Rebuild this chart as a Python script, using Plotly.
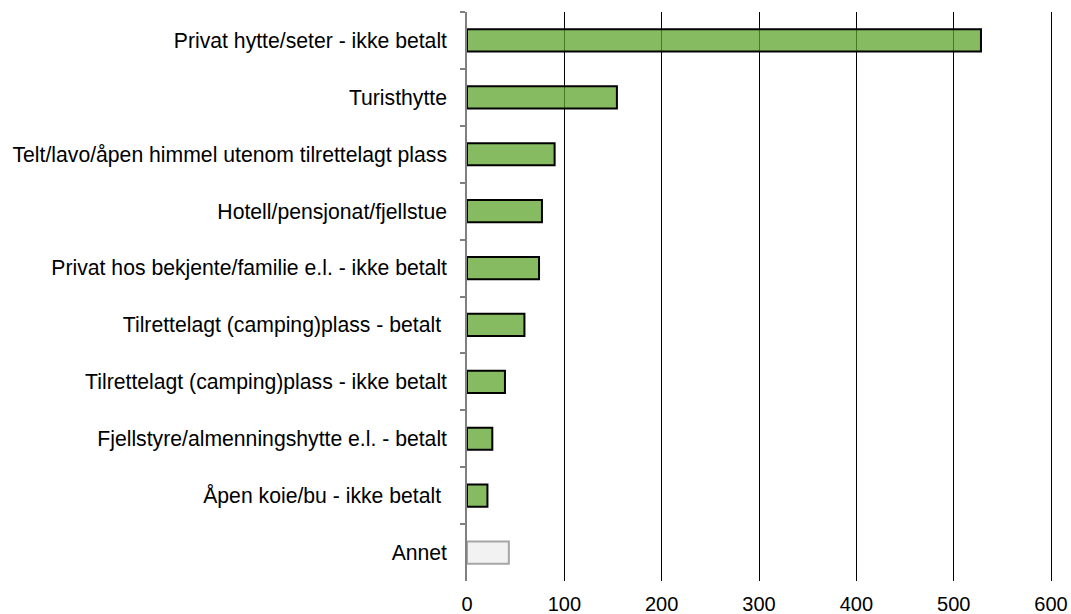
import plotly.graph_objects as go

categories = [
    "Privat hytte/seter - ikke betalt",
    "Turisthytte",
    "Telt/lavo/åpen himmel utenom tilrettelagt plass",
    "Hotell/pensjonat/fjellstue",
    "Privat hos bekjente/familie e.l. - ikke betalt",
    "Tilrettelagt (camping)plass - betalt ",
    "Tilrettelagt (camping)plass - ikke betalt",
    "Fjellstyre/almenningshytte e.l. - betalt",
    "Åpen koie/bu - ikke betalt ",
    "Annet",
]
values = [528, 154, 90, 77, 74, 59, 39, 26, 21, 43]
x_ticks = [0, 100, 200, 300, 400, 500, 600]

fill_colors = ["rgba(94,164,46,0.75)"] * 9 + ["#F2F2F2"]
line_colors = ["#000000"] * 9 + ["#A6A6A6"]

fig = go.Figure()
fig.add_trace(go.Bar(
    x=values,
    y=categories,
    orientation="h",
    marker=dict(color=fill_colors, line=dict(color=line_colors, width=2)),
    width=0.39,
    hoverinfo="x+y",
))

fig.update_layout(
    width=1071,
    height=614,
    margin=dict(l=467, r=18, t=12, b=33, autoexpand=False),
    paper_bgcolor="white",
    plot_bgcolor="white",
    showlegend=False,
    font=dict(family="Liberation Sans, Arial, sans-serif", size=20, color="#000000"),
)
fig.update_xaxes(
    range=[0, 602],
    tickvals=x_ticks,
    showgrid=True,
    gridcolor="#000000",
    gridwidth=1,
    zeroline=False,
    showline=False,
    ticks="",
    tickfont=dict(size=20),
    automargin=False,
    ticklabelstandoff=9,
)
fig.update_yaxes(
    autorange="reversed",
    type="category",
    showline=True,
    linecolor="#808080",
    linewidth=1.5,
    ticks="outside",
    tickson="boundaries",
    ticklen=5,
    tickcolor="#808080",
    tickwidth=1.5,
    showgrid=False,
    tickfont=dict(size=21.2),
    ticklabelstandoff=14,
    automargin=False,
)

fig.write_html(
    "out.html",
    config={"displayModeBar": False},
    post_script="document.body.style.margin='0';document.body.style.overflow='hidden';",
)
